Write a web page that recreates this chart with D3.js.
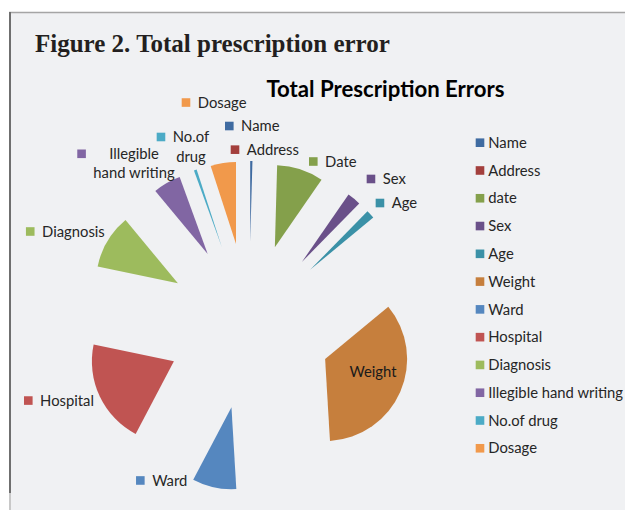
<!DOCTYPE html>
<html><head><meta charset="utf-8">
<script src="https://cdn.jsdelivr.net/npm/d3@7"></script>
<style>body{margin:0;background:#fff;}svg{display:block;}</style>
</head><body>
<svg id="chart" width="625" height="510"></svg>
<script>
// ---- data ----
const categories = ["Name","Address","date","Sex","Age","Weight","Ward","Hospital","Diagnosis","Illegible hand writing","No.of drug","Dosage"];
const values = [1.6, 0, 33.1, 9.7, 6, 126.2, 31.2, 74, 38.5, 19.7, 2, 18];
const dataLabels = [["Name"],["Address"],["Date"],["Sex"],["Age"],["Weight"],["Ward"],["Hospital"],["Diagnosis"],["Illegible","hand writing"],["No.of","drug"],["Dosage"]];
const figureTitle = "Figure 2. Total prescription error";
const chartTitle = "Total Prescription Errors";

// ---- styles / layout ----
const colors = ["#3f6ba1","#a33f3c","#84a04b","#6a5089","#3b91a7","#c67f3d","#5587bf","#c05452","#9dbb5d","#8166a3","#4cabc6","#f1994b"];
// label offsets (from exploded slice outer midpoint): [dx, dy, insideNoKey]
const labelOffsets = [[-26.3,-35],[-22.9,-11.4],[8.6,-7.7],[12.6,-19.8],[5.2,-11.3],[-27.3,-19.8,true],[-78.1,-6.8],[-75.7,4.3],[-81.7,-9.4],[-89.6,-29.1],[-38.6,-33],[-41.5,-60.5]];
const cx = 249, cy = 326, R = 82, explode = 83;
const labelFont = "Lato, 'Open Sans', sans-serif";
const labelSize = 14.8;

const svg = d3.select("#chart");
// frame
svg.append("rect").attr("x",10).attr("y",12).attr("width",615).attr("height",498).attr("fill","#f0f1f3");
svg.append("line").attr("x1",9).attr("x2",625).attr("y1",12.5).attr("y2",12.5).attr("stroke","#a5a5a5").attr("stroke-width",1.5);
svg.append("line").attr("x1",10).attr("x2",10).attr("y1",12).attr("y2",493).attr("stroke","#6f6f6f").attr("stroke-width",2);
svg.append("line").attr("x1",10).attr("x2",10).attr("y1",493).attr("y2",510).attr("stroke","#c8c8c8").attr("stroke-width",2);

svg.append("text").attr("x",35).attr("y",52).text(figureTitle)
  .attr("font-family","'Liberation Serif', serif").attr("font-weight","bold").attr("font-size",25).attr("fill","#231f20");
svg.append("text").attr("x",385.5).attr("y",97).attr("text-anchor","middle").text(chartTitle)
  .attr("font-family","Lato, sans-serif").attr("font-weight","bold").attr("font-size",22.2).attr("fill","#000");

const pie = d3.pie().sort(null).value(d => d).startAngle(0).endAngle(2*Math.PI);
const arcs = pie(values);
const arc = d3.arc().innerRadius(0).outerRadius(R);
const dir = a => [Math.sin(a), -Math.cos(a)];

const g = svg.append("g").attr("transform",`translate(${cx},${cy})`);
g.selectAll("path.slice").data(arcs).join("path")
  .attr("class","slice")
  .attr("d", arc)
  .attr("fill",(d,i)=>colors[i])
  .attr("transform", d => { const m=(d.startAngle+d.endAngle)/2; const [x,y]=dir(m); return `translate(${x*explode},${y*explode})`; });

// data labels
const keySize = 8.6, keyGap = 7.5, lineH = 19.5;
arcs.forEach((d,i) => {
  const m = (d.startAngle+d.endAngle)/2;
  const [ux,uy] = dir(m);
  const ox = cx + ux*(explode+R) + labelOffsets[i][0];
  const oy = cy + uy*(explode+R) + labelOffsets[i][1];
  const lg = svg.append("g").attr("transform",`translate(${ox},${oy})`);
  const lines = dataLabels[i];
  if (labelOffsets[i][2]) {
    lg.append("text").attr("text-anchor","middle").attr("dy","0.35em").text(lines[0])
      .attr("font-family",labelFont).attr("font-size",labelSize).attr("fill","#1a1a1a");
    return;
  }
  lg.append("rect").attr("x",0).attr("y",-keySize/2).attr("width",keySize).attr("height",keySize).attr("fill",colors[i]);
  const texts = lines.map((t,k) => lg.append("text").attr("y",k*lineH).attr("dy","0.35em").text(t)
      .attr("font-family",labelFont).attr("font-size",labelSize).attr("fill","#262626"));
  if (lines.length === 1) {
    texts[0].attr("x", keySize+keyGap);
  } else {
    const W = d3.max(texts, t => t.node().getComputedTextLength());
    texts.forEach(t => t.attr("x", keySize+keyGap+W/2).attr("text-anchor","middle"));
  }
});

// legend
const lgd = svg.append("g").attr("transform","translate(475.7,142.7)");
categories.forEach((c,i) => {
  const row = lgd.append("g").attr("transform",`translate(0,${i*27.78})`);
  row.append("rect").attr("x",0).attr("y",-keySize/2).attr("width",keySize).attr("height",keySize).attr("fill",colors[i]);
  row.append("text").attr("x",12.6).attr("dy","0.35em").text(c)
    .attr("font-family",labelFont).attr("font-size",labelSize).attr("fill","#262626");
});
</script>
</body></html>
